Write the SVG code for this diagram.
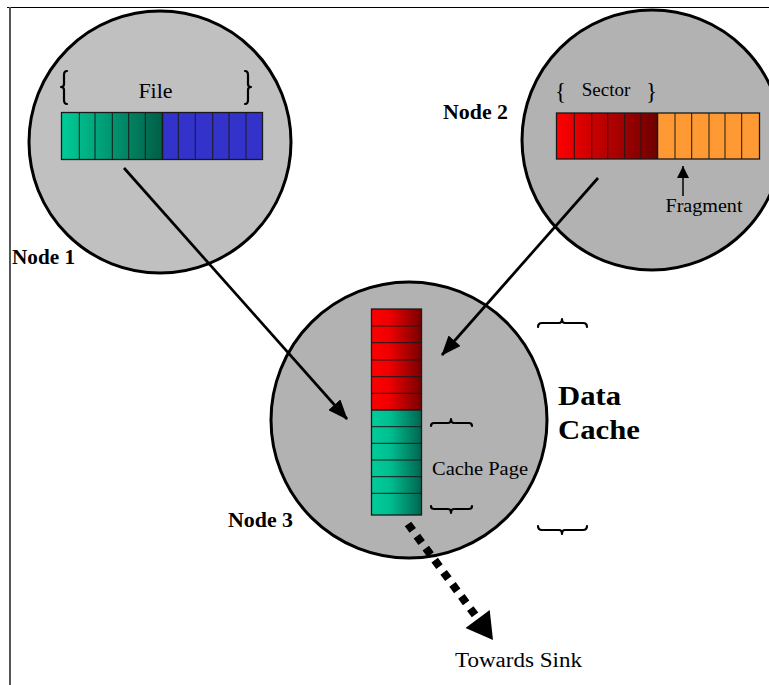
<svg xmlns="http://www.w3.org/2000/svg" width="769" height="685" viewBox="0 0 769 685">
<style>
.node{stroke:#000;stroke-width:3}
.cell{stroke:#1a1a1a;stroke-width:1}
.brace{fill:none;stroke:#000;stroke-width:2.2;stroke-linecap:round;stroke-linejoin:round}
.lbl{font-family:"Liberation Serif","Times New Roman",serif;font-weight:bold;font-size:20px;fill:#000}
.txt{font-family:"Liberation Serif","Times New Roman",serif;fill:#000}
.conn{stroke:#000;stroke-width:2.7;fill:none}
</style>
<defs>
<linearGradient id="gTeal" x1="0" y1="0" x2="1" y2="0"><stop offset="0" stop-color="#00CC99"/><stop offset="1" stop-color="#005E46"/></linearGradient>
<linearGradient id="gRed" x1="0" y1="0" x2="1" y2="0"><stop offset="0" stop-color="#FF0000"/><stop offset="1" stop-color="#6E0000"/></linearGradient>
<linearGradient id="gRedV" x1="0" y1="0" x2="1" y2="0"><stop offset="0" stop-color="#FF0000"/><stop offset="0.35" stop-color="#F00000"/><stop offset="1" stop-color="#780000"/></linearGradient>
<linearGradient id="gTealV" x1="0" y1="0" x2="1" y2="0"><stop offset="0" stop-color="#00CC99"/><stop offset="0.35" stop-color="#00C093"/><stop offset="1" stop-color="#006650"/></linearGradient>
<marker id="ah" markerUnits="userSpaceOnUse" markerWidth="20" markerHeight="16" refX="19" refY="8" orient="auto"><path d="M0,0 L20,8 L0,16 z" fill="#000"/></marker>
<marker id="ahs" markerUnits="userSpaceOnUse" markerWidth="12" markerHeight="12" refX="12" refY="6" orient="auto"><path d="M0,0 L12,6 L0,12 z" fill="#000"/></marker>
</defs>
<rect width="769" height="685" fill="#fff"/>
<g id="frame">
<line x1="7" y1="7.5" x2="769" y2="7.5" stroke="#000" stroke-width="1.2"/>
<line x1="10" y1="7" x2="10" y2="685" stroke="#555" stroke-width="2"/>
</g>
<g id="node1">
<circle class="node" cx="160" cy="142" r="131" fill="#C0C0C0"/>
<rect x="61.5" y="112.5" width="101" height="47" fill="url(#gTeal)"/>
<rect x="162.5" y="112.5" width="100" height="47" fill="#3333CC"/>
<path class="cell" d="M79.3,112.5V159.5M95,112.5V159.5M112.3,112.5V159.5M128.7,112.5V159.5M145.3,112.5V159.5M178.3,112.5V159.5M195.3,112.5V159.5M212.7,112.5V159.5M229,112.5V159.5M246,112.5V159.5"/>
<rect x="61.5" y="112.5" width="201" height="47" fill="none" stroke="#1a1a1a" stroke-width="1.3"/>
<line x1="162.5" y1="112.5" x2="162.5" y2="159.5" stroke="#1a1a1a" stroke-width="1.5"/>
<path class="brace" d="M67,71 Q64,71 64,75 L64,84 Q64,87 61,87 Q64,87 64,90 L64,100 Q64,104 67,104"/>
<path class="brace" d="M245,71 Q248,71 248,75 L248,84 Q248,87 251,87 Q248,87 248,90 L248,100 Q248,104 245,104"/>
<text class="txt" x="155.5" y="98" font-size="22" text-anchor="middle" fill="#333">File</text>
<text class="lbl" x="12" y="264" textLength="63" lengthAdjust="spacingAndGlyphs">Node 1</text>
</g>
<g id="node2">
<circle class="node" cx="652" cy="140" r="130" fill="#B2B2B2"/>
<rect x="556.5" y="113" width="101" height="46" fill="url(#gRed)"/>
<rect x="657.5" y="113" width="102" height="46" fill="#FF9933"/>
<path class="cell" d="M574.3,113V159M591.7,113V159M607.7,113V159M624.7,113V159M641,113V159M675,113V159M691.7,113V159M709,113V159M725,113V159M741.7,113V159"/>
<rect x="556.5" y="113" width="203" height="46" fill="none" stroke="#1a1a1a" stroke-width="1.3"/>
<line x1="657.5" y1="113" x2="657.5" y2="159" stroke="#1a1a1a" stroke-width="1.5"/>
<text class="txt" x="555" y="99" font-size="23">{</text>
<text class="txt" x="606" y="96" font-size="19" text-anchor="middle">Sector</text>
<text class="txt" x="646" y="99" font-size="23">}</text>
<line x1="683" y1="196" x2="683" y2="166" stroke="#000" stroke-width="1.5" marker-end="url(#ahs)"/>
<text class="txt" x="704" y="212" font-size="19" text-anchor="middle" textLength="77" lengthAdjust="spacingAndGlyphs">Fragment</text>
<text class="lbl" x="443" y="119" textLength="65" lengthAdjust="spacingAndGlyphs">Node 2</text>
</g>
<g id="node3">
<circle class="node" cx="409" cy="420" r="138" fill="#B2B2B2"/>
<rect x="371.5" y="309" width="50" height="101" fill="url(#gRedV)"/>
<rect x="371.5" y="410" width="50" height="105" fill="url(#gTealV)"/>
<path class="cell" d="M371.5,326H421.5M371.5,342.7H421.5M371.5,360H421.5M371.5,376.7H421.5M371.5,393.3H421.5M371.5,426.7H421.5M371.5,443.3H421.5M371.5,460H421.5M371.5,476.7H421.5M371.5,493.3H421.5"/>
<rect x="371.5" y="309" width="50" height="206" fill="none" stroke="#1a1a1a" stroke-width="1.3"/>
<line x1="371.5" y1="410" x2="421.5" y2="410" stroke="#1a1a1a" stroke-width="1.5"/>
<path class="brace" d="M431,426 Q431,423 434,423 L448,423 Q451,423 451,419 Q451,423 454,423 L469,423 Q472,423 472,426"/>
<path class="brace" d="M431,506 Q431,509 434,509 L448,509 Q451,509 451,513 Q451,509 454,509 L469,509 Q472,509 472,506"/>
<text class="txt" x="432" y="475" font-size="19" textLength="96" lengthAdjust="spacingAndGlyphs">Cache Page</text>
<text class="lbl" x="228" y="527" textLength="65" lengthAdjust="spacingAndGlyphs">Node 3</text>
</g>
<g id="datacache">
<path class="brace" d="M538,327 Q538,323 542,323 L559,323 Q562,323 562,319 Q562,323 565,323 L583,323 Q587,323 587,327"/>
<path class="brace" d="M538,526 Q538,530 542,530 L559,530 Q562,530 562,534 Q562,530 565,530 L583,530 Q587,530 587,526"/>
<text class="lbl" x="558" y="405" style="font-size:28px" textLength="63" lengthAdjust="spacingAndGlyphs">Data</text>
<text class="lbl" x="558" y="439" style="font-size:28px" textLength="82" lengthAdjust="spacingAndGlyphs">Cache</text>
</g>
<g id="sink">
<text class="txt" x="455" y="667" font-size="20" textLength="127" lengthAdjust="spacingAndGlyphs">Towards Sink</text>
</g>
<g id="connectors">
<line class="conn" x1="124" y1="168" x2="347" y2="419" marker-end="url(#ah)"/>
<line class="conn" x1="598" y1="178" x2="442" y2="355" marker-end="url(#ah)"/>
<line x1="408" y1="524" x2="478" y2="619" stroke="#000" stroke-width="8" stroke-dasharray="8 7"/>
<polygon points="493,640 465.5,627.9 489.7,610.1" fill="#000"/>
</g>
</svg>
